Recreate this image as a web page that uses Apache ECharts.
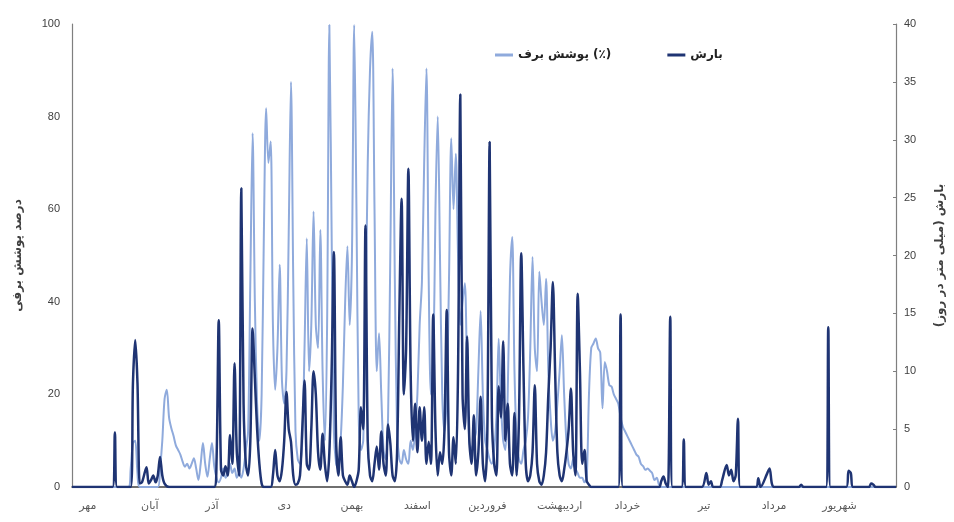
<!DOCTYPE html>
<html><head><meta charset="utf-8">
<script src="https://cdn.jsdelivr.net/npm/echarts@6/dist/echarts.min.js"></script>
<style>html,body{margin:0;padding:0;background:#fff}#c{width:954px;height:522px}</style>
</head><body><div id="c"></div>
<script>
// Month labels (Persian water year) and their day positions along the x axis
var monthNames = ['مهر','آبان','آذر','دی','بهمن','اسفند','فروردین','اردیبهشت','خرداد','تیر','مرداد','شهریور'];
var monthPos = [7,34.5,62,94,124,153,184,216,246,280,311,340];
var leftTicks = [0,20,40,60,80,100];
var rightTicks = [0,5,10,15,20,25,30,35,40];

var seriesNames = ['پوشش برف (٪)','بارش'];

// Snow cover (%) — [day, value]
var snowCover = [[0,0],[25,0],[26,4],[27,9.5],[28,10],[29,3],[30,0],[38,0],[39,4],[40,10],[41,19],[42,21],[43,15],[44,12.7],[45,11],[46,9],[47,8],[48,7],[49,5.5],[50,4.4],[51,5],[52,4],[53,5],[54,6.2],[55,4],[56,1.5],[57,5],[58,9.5],[59,5],[60,2.2],[61,6],[62,9.5],[63,4.5],[64,2],[65,1],[66,2],[67,4],[68,2],[69,3],[70,5],[71,3],[72,4],[73,2],[74,3],[75,2],[76,4],[77,8],[78,12],[79,45],[80,76.4],[81,40],[82,18],[83,10],[84,20],[85,55],[86,81.8],[87,70],[88,74.6],[89,35],[90,21],[91,30],[92,48],[93,23],[94,18],[95,25],[96,55],[97,87.5],[98,45],[99,12],[100,6],[101,5],[102,10],[103,30],[104,53.7],[105,25],[106,35],[107,59.5],[108,35],[109,30],[110,55.5],[111,25],[112,10],[113,35],[114,99.8],[115,55],[116,12],[117,5],[118,4],[119,10],[120,22],[121,40],[122,52],[123,35],[124,50],[125,99.8],[126,60],[127,15],[128,8],[129,10],[130,35],[131,70],[132,90],[133,98.3],[134,60],[135,25],[136,33.2],[137,20],[138,8],[139,6],[140,15],[141,50],[142,90.4],[143,45],[144,12],[145,6],[146,5],[147,8],[148,6],[149,5],[150,10],[151,8],[152,12],[153,20],[154,35],[155,44.3],[156,70],[157,90.4],[158,45],[159,20],[160,25],[161,60],[162,80],[163,50],[164,20],[165,12],[166,20],[167,45],[168,75.3],[169,60],[170,72],[171,50],[172,35],[173,40],[174,44],[175,25],[176,10],[177,8],[178,10],[179,12],[180,25],[181,38],[182,20],[183,10],[184,8],[185,6],[186,5],[187,8],[188,15],[189,32],[190,18],[191,10],[192,8],[193,20],[194,45],[195,54],[196,25],[197,10],[198,6],[199,5],[200,8],[201,10],[202,15],[203,30],[204,49.7],[205,30],[206,25],[207,46.5],[208,40],[209,35],[210,45],[211,25],[212,15],[213,10],[214,12],[215,18],[216,25],[217,32.8],[218,20],[219,10],[220,5],[221,4],[222,6],[223,4],[224,3],[225,2],[226,2],[227,1],[228,2],[229,20],[230,30],[231,31],[232,32.1],[233,30],[234,29],[235,17],[236,27],[237,25],[238,22],[239,21.7],[240,20],[241,19],[242,18],[243,15],[244,13],[245,12],[246,11],[247,10],[248,9],[249,8],[250,7],[251,6.5],[252,5],[253,4.5],[254,3.7],[255,4],[256,3.5],[257,3],[258,1.5],[259,2],[260,0.5],[261,0],[365,0]];

// Precipitation (mm/day) — [day, value]
var precipitation = [[0,0],[18,0],[19,4.7],[20,0],[26,0],[27,9],[28,12.7],[29,9],[30,0.3],[31,0.4],[33,1.7],[34,0.3],[35,0.6],[36,1],[37,0.4],[38,1],[39,2.6],[40,1],[41,0.3],[43,0],[63,0],[64,2],[65,14.4],[66,1.5],[67,1],[68,1.8],[69,1],[70,4.5],[71,2],[72,10.7],[73,3],[74,1],[75,25.8],[76,7.2],[77,2],[78,1],[79,4],[80,13.7],[81,9.4],[82,5],[83,2],[84,0.3],[85,0],[88,0],[89,1],[90,3.2],[91,1],[92,0.5],[93,1.5],[94,4],[95,8.2],[96,5],[97,3.9],[98,1],[99,0.2],[100,0.3],[101,1],[102,5],[103,9.2],[104,2],[105,1.5],[106,5],[107,10],[108,8],[109,3],[110,1.5],[111,4.6],[112,2],[113,0.5],[114,3],[115,10],[116,20.3],[117,4],[118,1],[119,4.3],[120,1],[121,0.5],[122,0.2],[123,1],[124,0.5],[125,0],[126,0.5],[127,1.5],[128,6.9],[129,5],[130,22.6],[131,4],[132,1],[133,0.5],[134,2],[135,3.5],[136,1.5],[137,4.8],[138,2],[139,1],[140,5.4],[141,3.8],[142,1],[143,0.5],[144,3],[145,15],[146,24.9],[147,8],[148,12],[149,27.5],[150,10],[151,4],[152,7.2],[153,3],[154,6.9],[155,4],[156,6.9],[157,2],[158,3.9],[159,2],[160,14.9],[161,5],[162,1],[163,3],[164,2],[165,5],[166,15.3],[167,3],[168,1],[169,4.3],[170,2],[171,10],[172,33.9],[173,8],[174,5],[175,13],[176,4],[177,2],[178,6.2],[179,1],[180,3],[181,7.8],[182,2],[183,0.5],[184,5],[185,29.8],[186,6],[187,2],[188,1],[189,8.7],[190,6],[191,12.6],[192,4],[193,7.2],[194,2],[195,1],[196,6.4],[197,1],[198,6],[199,20.2],[200,10],[201,2],[202,0.5],[203,1],[204,3],[205,8.8],[206,2],[207,0.5],[208,0.2],[209,1],[210,3],[211,8],[212,12],[213,17.7],[214,10],[215,3],[216,1],[217,0.5],[218,1.5],[219,3],[220,5],[221,8.5],[222,3],[223,1],[224,16.7],[225,10],[226,2],[227,3.2],[228,0.5],[229,0.2],[230,0],[242,0],[243,14.9],[244,0],[260,0],[261,0.5],[262,0.9],[263,0.3],[264,0],[265,14.7],[266,0],[270,0],[271,4.1],[272,0],[279,0],[281,1.2],[282,0.2],[283,0.5],[284,0],[287,0],[288,0.6],[290,1.9],[291,1],[292,1.5],[293,0.5],[294,1],[295,5.9],[296,0],[303,0],[304,0.75],[305,0],[308,1.2],[309,1.6],[310,0.3],[311,0],[322,0],[323,0.2],[324,0],[334,0],[335,13.8],[336,0],[343,0],[344,1.4],[345,1.2],[346,0],[353,0],[354,0.3],[355,0.2],[356,0],[365,0]];

var axisColor = '#7f7f7f';
var textColor = '#404040';
var faFont = 'DejaVu Sans';
var numFont = 'Liberation Sans';

var chart = echarts.init(document.getElementById('c'), null, {renderer:'canvas'});
chart.setOption({
  animation:false,
  backgroundColor:'#fff',
  grid:{left:72,right:57,top:24,bottom:35,containLabel:false},
  legend:{
    left:490, top:44, itemGap:56, itemWidth:18, itemHeight:3, icon:'rect',
    textStyle:{fontFamily:faFont, fontSize:12, fontWeight:'bold', color:'#222'},
    data:seriesNames
  },
  xAxis:{
    type:'value', min:0, max:365,
    axisLine:{show:true, lineStyle:{color:'#404040', width:1.5}},
    axisTick:{show:false},
    splitLine:{show:false},
    axisLabel:{
      customValues:monthPos,
      margin:14,
      fontFamily:faFont, fontSize:11, color:'#595959',
      formatter:function(v){var i=monthPos.indexOf(v);return i>=0?monthNames[i]:'';}
    }
  },
  yAxis:[{
    type:'value', min:0, max:100, interval:20, position:'left',
    name:'درصد پوشش برفی', nameLocation:'middle', nameGap:48, nameRotate:90,
    nameTextStyle:{fontFamily:faFont, fontSize:12, fontWeight:'bold', color:textColor},
    axisLine:{show:true, lineStyle:{color:axisColor, width:1.2}},
    axisTick:{show:false},
    splitLine:{show:false},
    axisLabel:{fontFamily:numFont, fontSize:11, color:textColor, margin:12}
  },{
    type:'value', min:0, max:40, interval:5, position:'right',
    name:'بارش (میلی متر در روز)', nameLocation:'middle', nameGap:38, nameRotate:90,
    nameTextStyle:{fontFamily:faFont, fontSize:12, fontWeight:'bold', color:textColor},
    axisLine:{show:true, lineStyle:{color:axisColor, width:1.2}},
    axisTick:{show:true, inside:true, length:3, lineStyle:{color:axisColor}},
    splitLine:{show:false},
    axisLabel:{fontFamily:numFont, fontSize:11, color:textColor, margin:8}
  }],
  series:[{
    name:seriesNames[0], type:'line', yAxisIndex:0, data:snowCover,
    showSymbol:false, smooth:0.3, lineStyle:{color:'#8faadc', width:2}, itemStyle:{color:'#8faadc'}
  },{
    name:seriesNames[1], type:'line', yAxisIndex:1, data:precipitation,
    showSymbol:false, smooth:0.3, lineStyle:{color:'#1f3473', width:2.5}, itemStyle:{color:'#1f3473'}
  }]
});
</script></body></html>
